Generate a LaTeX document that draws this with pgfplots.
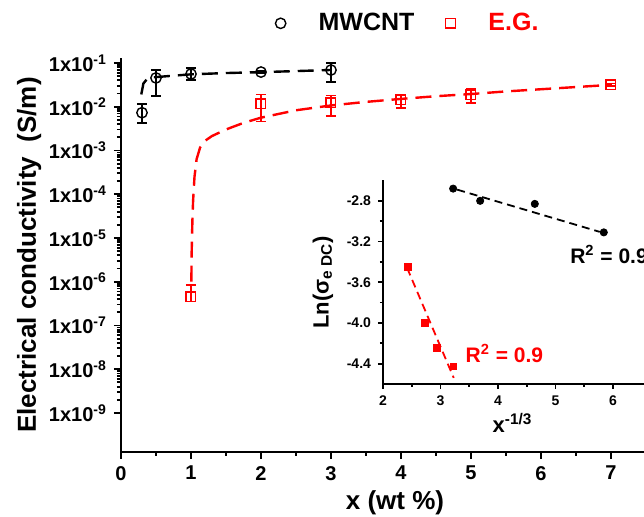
\documentclass[border=0pt]{standalone}
\usepackage{pgfplots}
\pgfplotsset{compat=1.18}
\usepackage{fontspec}
\setmainfont{Liberation Sans}
\begin{document}
\begin{tikzpicture}
\pgfplotsset{
  every axis/.append style={
    axis lines=left, axis line style={-, line width=1pt},
    tick align=outside, tick style={line width=0.9pt, black},
    major tick length=3.5pt, minor tick length=2pt,
    /pgf/number format/assume math mode=true,
  },
  mylegimg/.style={legend image code/.code={\path[draw=none,fill=none] (0pt,-3pt) rectangle (33pt,3pt); \draw[##1] plot coordinates {(16pt,0pt)};}},
}
% ---------------- main axis ----------------
\begin{axis}[
  at={(60.5pt,32.5pt)}, anchor=south west,
  scale only axis, width=262.5pt, height=197pt,
  xmin=0, xmax=7.5, ymode=log, ymin=1.28e-10, ymax=0.13,
  xtick={0,1,2,3,4,5,6,7}, minor x tick num=1,
  ytick={1e-9,1e-8,1e-7,1e-6,1e-5,1e-4,1e-3,1e-2,1e-1},
  yticklabels={1x10\textsuperscript{-9},1x10\textsuperscript{-8},1x10\textsuperscript{-7},1x10\textsuperscript{-6},1x10\textsuperscript{-5},1x10\textsuperscript{-4},1x10\textsuperscript{-3},1x10\textsuperscript{-2},1x10\textsuperscript{-1}},
  tick label style={font=\bfseries\fontsize{10}{12}\selectfont},
  xlabel={x (wt \%)}, ylabel={Electrical conductivity\ \ (S/m)},
  label style={font=\bfseries\fontsize{13}{15}\selectfont},
  xlabel style={at={(rel axis cs:0.522,0)}, anchor=center, yshift=-25.5pt},
  ylabel style={yshift=-3pt},
  legend columns=2,
  legend style={draw=none, fill=none, inner sep=0pt, at={(0.523,1.088)}, anchor=center,
    font=\bfseries\fontsize{12.5}{15}\selectfont,
    /tikz/every even column/.append style={column sep=0pt}},
]
% MWCNT data
\addplot[black, only marks, mark=o, mark size=2.6pt, mark options={line width=0.7pt}, mylegimg,
  error bars/.cd, y dir=both, y explicit,
  error bar style={line width=0.8pt},
  error mark options={rotate=90, mark size=2.5pt, line width=0.8pt}]
  table[x=x, y=y, y error plus=ep, y error minus=em] {
  x    y       ep      em
  0.3  0.0073  0.0044  0.0030
  0.5  0.0455  0.0235  0.0277
  1    0.056   0.021   0.015
  2    0.062   0.004   0.004
  3    0.069   0.031   0.032
};
\addlegendentry{MWCNT}
% E.G. data
\addplot[red, only marks, mark=square, mark size=2.4pt, mark options={line width=0.7pt}, mylegimg,
  error bars/.cd, y dir=both, y explicit,
  error bar style={line width=0.8pt},
  error mark options={rotate=90, mark size=2.5pt, line width=0.8pt}]
  table[x=x, y=y, y error plus=ep, y error minus=em] {
  x    y        ep       em
  1    4.5e-7   4.0e-7   1.0e-7
  2    0.0117   0.0073   0.0071
  3    0.0123   0.0057   0.0061
  4    0.0144   0.0042   0.0049
  5    0.0188   0.0072   0.0065
  7    0.0318   0.0020   0.0020
};
\addlegendentry{\textcolor{red}{E.G.}}
% fits
\addplot[black, line width=1.2pt, dash pattern=on 8pt off 4pt, mark=none, forget plot] coordinates {
  (0.29,0.0191) (0.32,0.0339) (0.37,0.0427) (0.45,0.0468) (0.6,0.049) (0.75,0.0513)
  (1,0.055) (1.5,0.0589) (2,0.0617) (2.5,0.0653) (3,0.0692)
};
\addplot[red, line width=1.2pt, dash pattern=on 8pt off 4pt, mark=none, forget plot] coordinates {
  (1.005,1.0e-6) (1.01,5.0e-6) (1.02,2.5e-5) (1.03,7.1e-5) (1.05,2.5e-4) (1.08,6.3e-4)
  (1.13,1.17e-3) (1.2,1.66e-3) (1.3,2.14e-3) (1.5,3.02e-3) (1.75,4.27e-3) (2.0,5.62e-3)
  (2.5,8.3e-3) (3,0.0107) (3.5,0.0129) (4,0.0151) (4.5,0.0174) (5,0.0195)
  (5.5,0.0224) (6,0.0251) (6.5,0.0282) (7,0.0316)
};
\end{axis}
% ---------------- inset ----------------
\begin{axis}[
  at={(191.5pt,66.5pt)}, anchor=south west,
  scale only axis, width=132.25pt, height=101.75pt,
  xmin=2, xmax=6.6, ymin=-4.6, ymax=-2.6,
  xtick={2,3,4,5,6}, minor x tick num=1,
  ytick={-4.4,-4.0,-3.6,-3.2,-2.8}, minor y tick num=1,
  major tick length=2.5pt, minor tick length=1.5pt,
  axis line style={-, line width=0.9pt},
  yticklabel style={/pgf/number format/.cd, fixed, fixed zerofill, precision=1},
  tick label style={font=\bfseries\fontsize{7}{8}\selectfont},
  xlabel={x\textsuperscript{-1/3}},
  ylabel={Ln(σ\textsubscript{e DC})},
  label style={font=\bfseries\fontsize{11}{13}\selectfont},
  xlabel style={at={(rel axis cs:0.49,0)}, anchor=center, yshift=-19.5pt},
  clip=false,
]
\addplot[black, only marks, mark=*, mark size=1.8pt] coordinates {
  (3.22,-2.68) (3.69,-2.80) (4.64,-2.83) (5.84,-3.11)
};
\addplot[black, line width=0.9pt, dash pattern=on 4pt off 2.5pt, mark=none] coordinates {
  (3.29,-2.69) (5.77,-3.105)
};
\addplot[red, only marks, mark=square*, mark size=1.6pt] coordinates {
  (2.43,-3.45) (2.73,-4.0) (2.94,-4.245) (3.22,-4.43)
};
\addplot[red, line width=0.9pt, dash pattern=on 4pt off 2.5pt, mark=none] coordinates {
  (2.42,-3.46) (3.23,-4.54)
};
\node[anchor=west, font=\bfseries\fontsize{10.5}{12}\selectfont, inner sep=0pt] at (axis cs:5.25,-3.33) {R\textsuperscript{2} = 0.9};
\node[anchor=west, red, font=\bfseries\fontsize{10.5}{12}\selectfont, inner sep=0pt] at (axis cs:3.43,-4.30) {R\textsuperscript{2} = 0.9};
\end{axis}
\pgfresetboundingbox
\useasboundingbox (0,0) rectangle (322pt,258.5pt);
\end{tikzpicture}
\end{document}
